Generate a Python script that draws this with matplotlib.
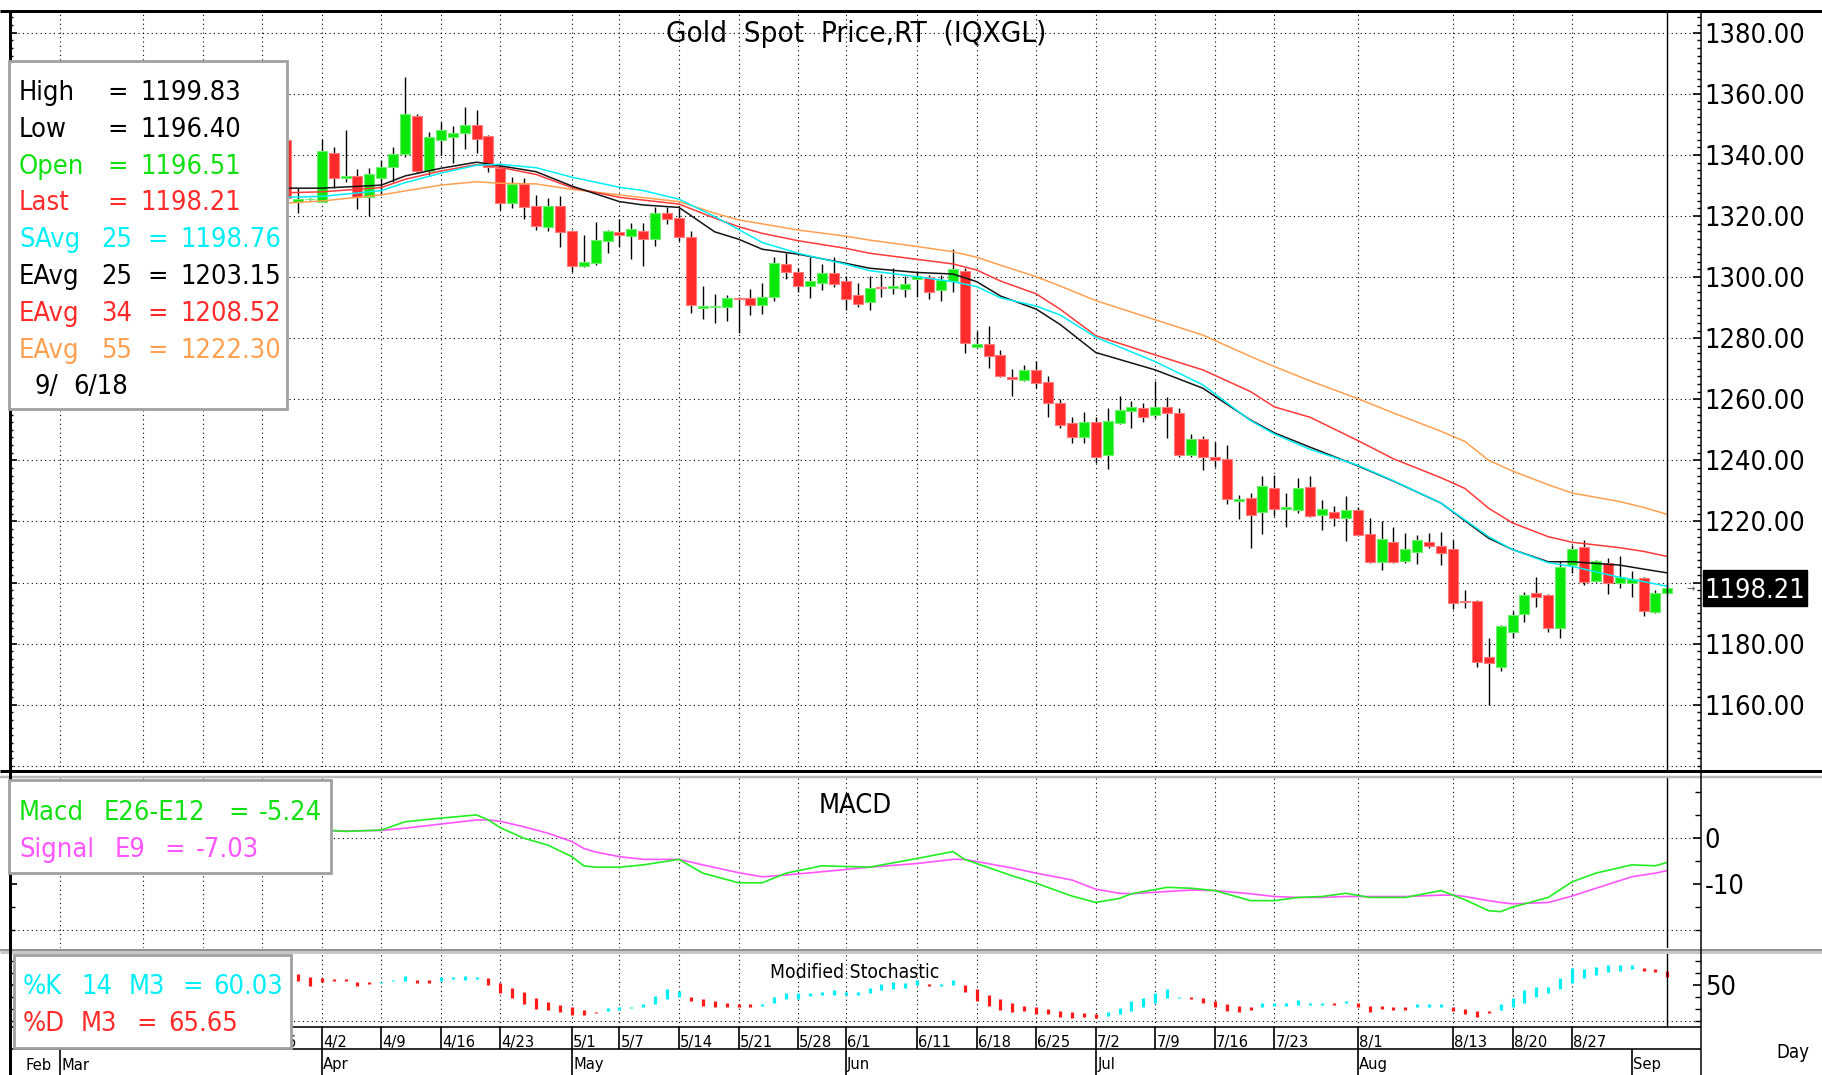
import matplotlib
matplotlib.use("Agg")
import matplotlib.pyplot as plt
from matplotlib.patches import Rectangle
from matplotlib.ticker import FixedLocator, MultipleLocator
from matplotlib import font_manager
import numpy as np
import pandas as pd

# === fonts: the charting package uses a narrow sans; take the narrowest we have ===
entries = [(f.name, str(f.stretch)) for f in font_manager.fontManager.ttflist]
FAM, STRETCH = "Liberation Sans", "normal"
for name, stretch in entries:
    if name == "Liberation Sans Narrow":
        FAM, STRETCH = name, "normal"
        break
else:
    for name, stretch in entries:
        if name == "DejaVu Sans" and stretch in ("condensed", "semi-condensed"):
            FAM, STRETCH = name, stretch
            break
        if "Condensed" in name or "Narrow" in name:
            FAM, STRETCH = name, stretch
plt.rcParams["font.family"] = [FAM, "DejaVu Sans"]
plt.rcParams["font.stretch"] = STRETCH

# === daily candles, 3/28 .. 9/6 (one row per week) ===
candle_start = "3/28"
open_ = [1345.0, 1324.5, 1325.5,
         1324.7, 1340.5, 1332.3, 1333.1, 1326.3,
         1332.3, 1335.9, 1340.2, 1352.7, 1334.7,
         1344.9, 1345.8, 1347.3, 1349.7, 1346.2,
         1335.6, 1324.4, 1330.5, 1323.3, 1316.5,
         1323.3, 1315.2, 1303.7, 1304.5, 1311.8,
         1314.7, 1313.5, 1315.2, 1312.4, 1321.1,
         1319.3, 1313.2, 1289.9, 1290.2, 1290.2,
         1293.2, 1293.0, 1290.8, 1293.6, 1304.2,
         1301.8, 1297.2, 1298.2, 1301.2, 1298.7,
         1294.0, 1291.8, 1296.7, 1296.3, 1296.2,
         1299.4, 1300.0, 1295.8, 1298.7, 1302.1,
         1277.2, 1278.1, 1274.5, 1267.4, 1266.2,
         1269.6, 1265.6, 1258.7, 1252.1, 1247.7,
         1252.6, 1241.8, 1252.3, 1256.2, 1257.0,
         1254.8, 1257.6, 1255.6, 1241.8, 1247.0,
         1241.0, 1240.6, 1226.8, 1227.6, 1223.2,
         1231.1, 1224.2, 1223.8, 1231.4, 1222.1,
         1223.0, 1221.0, 1223.6, 1215.8, 1206.8,
         1213.4, 1207.2, 1210.1, 1213.4, 1212.0,
         1210.9, 1194.1, 1194.1, 1175.5, 1172.4,
         1183.9, 1189.7, 1196.5, 1195.9, 1185.0,
         1205.8, 1211.5, 1200.5, 1206.5, 1199.8,
         1199.8, 1201.6, 1190.2, 1196.51]
high = [1346.0, 1329.0, 1325.8,
        1345.2, 1342.7, 1348.2, 1335.3, 1335.6,
        1338.3, 1342.7, 1365.4, 1353.3, 1347.6,
        1350.7, 1349.6, 1355.8, 1354.7, 1346.5,
        1337.3, 1332.7, 1332.3, 1326.9, 1325.8,
        1326.5, 1315.5, 1313.8, 1318.1, 1315.5,
        1318.9, 1317.6, 1317.6, 1323.0, 1323.0,
        1322.5, 1315.2, 1297.1, 1294.5, 1294.1,
        1293.4, 1296.2, 1298.2, 1306.7, 1308.0,
        1302.9, 1306.7, 1304.3, 1306.5, 1300.4,
        1298.0, 1300.4, 1301.0, 1302.9, 1300.4,
        1302.1, 1300.7, 1300.7, 1309.1, 1302.9,
        1282.4, 1284.0, 1276.1, 1269.9, 1271.1,
        1272.5, 1267.6, 1260.0, 1254.1, 1255.7,
        1254.1, 1257.0, 1261.1, 1259.5, 1258.7,
        1266.1, 1260.7, 1257.0, 1248.6, 1248.0,
        1246.1, 1245.0, 1228.7, 1229.2, 1234.9,
        1235.2, 1229.4, 1234.1, 1235.0, 1227.0,
        1225.1, 1228.4, 1224.8, 1221.0, 1220.0,
        1218.3, 1216.1, 1215.6, 1216.1, 1216.7,
        1214.0, 1197.6, 1194.4, 1182.0, 1186.2,
        1190.6, 1197.0, 1201.7, 1196.2, 1206.9,
        1212.3, 1214.0, 1207.4, 1208.0, 1208.7,
        1203.9, 1201.9, 1197.6, 1199.83]
low = [1324.0, 1321.0, 1325.3,
       1324.5, 1329.0, 1331.0, 1322.3, 1320.0,
       1326.9, 1331.2, 1339.4, 1334.0, 1333.4,
       1340.0, 1337.4, 1341.8, 1340.7, 1334.5,
       1322.0, 1322.5, 1318.9, 1315.4, 1315.2,
       1310.0, 1301.8, 1303.4, 1304.0, 1308.0,
       1310.0, 1305.8, 1303.6, 1310.2, 1317.4,
       1311.9, 1288.2, 1286.2, 1285.1, 1285.7,
       1281.8, 1287.6, 1287.8, 1292.3, 1299.3,
       1295.2, 1293.3, 1295.8, 1296.7, 1289.2,
       1290.3, 1289.2, 1293.6, 1294.6, 1293.4,
       1293.6, 1292.7, 1292.3, 1295.2, 1275.0,
       1276.8, 1270.1, 1267.2, 1261.2, 1265.9,
       1263.6, 1254.1, 1250.5, 1245.6, 1245.6,
       1239.1, 1237.2, 1251.9, 1250.5, 1252.7,
       1253.8, 1247.2, 1241.2, 1241.2, 1236.9,
       1237.9, 1225.7, 1220.7, 1211.2, 1215.9,
       1221.8, 1218.3, 1222.7, 1221.5, 1217.2,
       1218.6, 1213.7, 1215.3, 1206.5, 1204.1,
       1206.5, 1206.3, 1206.1, 1211.2, 1205.8,
       1191.3, 1191.6, 1172.5, 1160.0, 1171.0,
       1181.8, 1187.2, 1192.1, 1183.7, 1182.0,
       1203.0, 1199.2, 1200.2, 1196.3, 1198.1,
       1195.2, 1189.1, 1190.0, 1196.40]
close = [1326.0, 1325.5, 1325.6,
         1341.2, 1332.3, 1333.2, 1326.3, 1333.6,
         1336.1, 1340.2, 1353.3, 1334.7, 1345.8,
         1348.3, 1347.2, 1349.7, 1345.2, 1336.1,
         1324.4, 1330.5, 1323.0, 1316.8, 1323.3,
         1314.9, 1303.7, 1305.0, 1312.1, 1315.2,
         1313.9, 1315.6, 1312.4, 1321.1, 1318.9,
         1313.2, 1290.8, 1290.6, 1290.6, 1293.0,
         1292.7, 1290.8, 1293.6, 1304.7, 1301.8,
         1297.2, 1298.6, 1301.2, 1297.7, 1292.7,
         1291.2, 1296.5, 1296.3, 1297.1, 1297.6,
         1300.4, 1295.2, 1299.1, 1302.5, 1278.4,
         1278.1, 1274.3, 1267.7, 1266.6, 1269.6,
         1265.2, 1258.7, 1251.5, 1247.7, 1252.7,
         1241.2, 1253.0, 1256.5, 1257.6, 1254.3,
         1257.6, 1255.4, 1241.8, 1247.0, 1241.2,
         1240.2, 1227.3, 1227.5, 1222.1, 1231.6,
         1224.2, 1224.6, 1231.1, 1221.8, 1224.0,
         1221.2, 1223.6, 1215.6, 1206.8, 1214.3,
         1206.8, 1210.9, 1214.0, 1212.0, 1209.8,
         1193.2, 1193.5, 1174.1, 1173.6, 1185.9,
         1189.5, 1195.9, 1195.2, 1185.0, 1205.0,
         1210.9, 1200.1, 1206.9, 1199.8, 1201.7,
         1201.1, 1190.7, 1196.5, 1198.21]

# === moving averages ===
ma_dates = ["3/28", "4/2", "4/9", "4/11", "4/16", "4/19", "4/23", "4/26", "5/1", "5/7",
            "5/9", "5/14", "5/17", "5/21", "5/23", "5/28", "6/1", "6/5", "6/11", "6/14",
            "6/18", "6/20", "6/25", "6/27", "7/2", "7/9", "7/13", "7/19", "7/23", "7/26",
            "8/1", "8/6", "8/10", "8/14", "8/16", "8/20", "8/23", "8/27", "8/31", "9/4", "9/6"]
savg25 = [1326.1, 1326.4, 1328.3, 1330.9, 1334.0, 1336.6, 1336.9, 1335.8, 1332.7, 1329.4,
          1328.3, 1325.5, 1319.8, 1315.6, 1311.3, 1307.8, 1304.2, 1302.1, 1300.1, 1298.5,
          1296.9, 1293.2, 1290.5, 1287.6, 1280.3, 1272.3, 1264.7, 1253.0, 1248.6, 1243.6,
          1238.4, 1233.3, 1226.0, 1220.5, 1215.0, 1210.8, 1206.5, 1205.3, 1201.7, 1200.3, 1198.76]
eavg25 = [1329.1, 1329.1, 1330.1, 1333.1, 1335.6, 1337.6, 1336.4, 1334.5, 1329.8, 1324.7,
          1323.6, 1322.8, 1314.8, 1312.4, 1309.1, 1307.5, 1304.5, 1302.9, 1301.5, 1301.0,
          1298.5, 1293.8, 1289.5, 1284.5, 1275.3, 1269.6, 1263.6, 1253.2, 1249.0, 1244.3,
          1238.2, 1233.2, 1226.0, 1220.2, 1214.5, 1210.8, 1206.8, 1206.8, 1205.7, 1204.4, 1203.15]
eavg34 = [1327.6, 1327.9, 1329.3, 1332.0, 1334.7, 1336.8, 1335.9, 1333.6, 1329.3, 1326.1,
          1325.2, 1323.9, 1319.3, 1316.5, 1314.3, 1311.9, 1309.4, 1307.8, 1305.8, 1304.3,
          1302.3, 1298.7, 1294.5, 1289.5, 1280.8, 1274.5, 1269.6, 1262.5, 1257.5, 1254.1,
          1246.5, 1240.5, 1234.3, 1230.8, 1224.3, 1219.5, 1215.0, 1213.2, 1211.4, 1210.2, 1208.52]
eavg55 = [1324.2, 1324.9, 1326.9, 1328.2, 1330.1, 1331.2, 1330.7, 1330.5, 1328.7, 1326.9,
          1326.0, 1324.7, 1320.9, 1318.7, 1317.4, 1315.4, 1313.4, 1312.1, 1310.0, 1308.3,
          1306.5, 1303.9, 1300.1, 1297.1, 1292.3, 1286.0, 1281.0, 1274.0, 1270.7, 1266.0,
          1260.2, 1255.5, 1249.5, 1246.2, 1240.0, 1236.5, 1232.0, 1229.3, 1226.5, 1224.6, 1222.30]

# === MACD panel ===
macd_dates = ["4/2", "4/4", "4/9", "4/11", "4/16", "4/19", "4/20", "4/23", "4/25", "4/27",
              "5/1", "5/2", "5/3", "5/7", "5/9", "5/14", "5/16", "5/21", "5/23", "5/25",
              "5/30", "6/5", "6/11", "6/14", "6/15", "6/21", "6/25", "6/28", "7/2", "7/4",
              "7/5", "7/10", "7/12", "7/16", "7/19", "7/23", "7/25", "7/27", "7/31", "8/2",
              "8/7", "8/10", "8/13", "8/14", "8/16", "8/17", "8/20", "8/23", "8/27", "8/29",
              "9/3", "9/5", "9/6"]
macd = [1.9, 1.5, 1.8, 3.6, 4.4, 5.1, 4.0, 2.3, 0.0, -1.5,
        -4.0, -6.0, -6.3, -6.3, -5.8, -4.6, -7.6, -9.7, -9.7, -7.6,
        -6.0, -6.3, -4.4, -2.9, -4.6, -8.2, -9.8, -12.6, -14.0, -13.1,
        -12.1, -10.7, -10.9, -11.4, -13.6, -13.6, -12.9, -12.7, -12.0, -12.9,
        -12.9, -11.4, -12.4, -13.4, -15.8, -16.0, -15.0, -12.9, -9.5, -7.6,
        -5.8, -6.0, -5.24]
signal = [1.6, 1.6, 1.7, 2.2, 3.1, 4.0, 4.0, 3.7, 2.5, 1.1,
          -0.7, -2.2, -3.0, -4.0, -4.6, -4.6, -5.8, -7.5, -8.4, -8.0,
          -7.3, -6.3, -5.5, -4.6, -4.6, -6.5, -7.6, -9.1, -11.1, -12.0,
          -12.1, -11.6, -11.3, -11.4, -12.1, -12.7, -12.9, -12.9, -12.7, -12.7,
          -12.7, -12.4, -12.4, -12.7, -13.6, -14.0, -14.3, -14.0, -12.6, -10.9,
          -8.4, -7.6, -7.03]

# === modified stochastic, 3/29 .. 9/6 (bar drawn between %K and %D) ===
stoch_start = "3/29"
stoch_k = [53.6, 49.2,
           52.8, 53.6, 53.6, 49.2, 50.8,
           52.8, 54.2, 57.5, 51.4, 51.4,
           56.4, 56.4, 57.5, 56.4, 50.0,
           43.1, 38.9, 33.9, 29.8, 29.2,
           27.3, 25.0, 25.0, 26.4, 30.6,
           31.9, 31.9, 33.9, 40.8, 46.4,
           45.3, 36.9, 32.5, 31.4, 31.4,
           31.4, 31.4, 33.9, 40.3, 43.1,
           43.1, 43.1, 44.4, 45.8, 44.4,
           43.9, 47.8, 50.8, 52.8, 51.9,
           54.2, 49.2, 50.8, 54.2, 44.4,
           36.9, 32.5, 29.2, 27.3, 28.6,
           25.8, 25.8, 23.6, 22.3, 23.1,
           22.3, 27.3, 30.6, 36.9, 38.9,
           43.1, 46.4, 40.3, 38.1, 35.3,
           31.4, 28.6, 27.3, 29.2, 35.3,
           35.3, 35.3, 37.5, 35.3, 35.3,
           33.3, 36.7, 31.4, 27.8, 29.8,
           29.2, 29.2, 33.9, 33.9, 33.9,
           28.6, 25.8, 23.6, 26.4, 33.9,
           38.9, 45.8, 48.6, 48.6, 55.6,
           63.9, 63.1, 65.3, 66.7, 66.7,
           66.7, 61.9, 60.6, 56.9]
stoch_d = [59.2, 56.4,
           55.6, 55.0, 55.0, 52.8, 52.8,
           51.9, 53.6, 53.6, 54.2, 54.2,
           53.6, 55.0, 54.2, 55.2, 55.6,
           51.9, 47.3, 43.9, 38.9, 36.1,
           33.3, 31.4, 29.2, 27.8, 28.6,
           29.2, 30.6, 31.4, 34.2, 38.1,
           39.8, 40.3, 38.1, 36.9, 35.3,
           33.9, 33.9, 32.5, 35.3, 38.1,
           38.1, 40.8, 41.7, 41.7, 41.7,
           41.7, 43.1, 45.8, 46.4, 47.3,
           50.0, 50.8, 49.2, 50.0, 50.0,
           46.4, 41.7, 38.1, 34.8, 32.5,
           31.4, 29.8, 28.6, 27.3, 26.4,
           25.6, 24.4, 25.8, 28.6, 31.4,
           34.8, 38.9, 38.9, 40.3, 38.9,
           36.9, 34.2, 32.5, 31.4, 31.4,
           32.5, 32.5, 33.3, 33.3, 33.3,
           35.3, 34.8, 35.3, 32.5, 32.5,
           31.4, 31.4, 31.4, 31.4, 31.4,
           31.9, 29.8, 28.6, 28.6, 29.2,
           31.4, 35.3, 39.8, 43.1, 46.4,
           51.9, 55.6, 58.3, 61.1, 61.9,
           63.1, 63.9, 63.1, 61.9]

# === date axis ===
day_labels = ["3/1", "3/12", "3/19", "3/26", "4/2", "4/9", "4/16", "4/23", "5/1", "5/7",
              "5/14", "5/21", "5/28", "6/1", "6/11", "6/18", "6/25", "7/2", "7/9", "7/16",
              "7/23", "8/1", "8/13", "8/20", "8/27"]
month_names = ["Feb", "Mar", "Apr", "May", "Jun", "Jul", "Aug", "Sep"]
month_first = ["2/26", "3/1", "4/2", "5/1", "6/1", "7/2", "8/1", "9/3"]

# trading calendar -> bar index (every weekday is a bar on this chart)
cal = pd.bdate_range("2018-02-19", "2018-09-07")
cal_labels = [f"{d.month}/{d.day}" for d in cal]
pos = {s: k - cal_labels.index("3/26") for k, s in enumerate(cal_labels)}

# === colours ===
GREEN = "#0be80b"
RED = "#ff2b2b"
CYAN = "#00eef6"
ORANGE = "#ffa050"
MAGENTA = "#ff55ff"
TGREEN = "#11e011"

# === layout (pixels of the 1822x1075 picture) ===
W, H = 1822, 1075
X0, X1 = 9, 1700.6
XLIM = ((X0 - 262.2) / 11.908, (X1 - 262.2) / 11.908)


def rect(x0, y0, x1, y1):
    return [x0 / W, 1 - y1 / H, (x1 - x0) / W, (y1 - y0) / H]


fig = plt.figure(figsize=(W / 100, H / 100), dpi=100)
fig.patch.set_facecolor("white")
renderer = fig.canvas.get_renderer()


def fit_size(sample, width_px):
    # font size giving the sample the width it has in the reference
    t = fig.text(0, 0, sample, fontsize=10)
    w = t.get_window_extent(renderer).width
    t.remove()
    return 10 * width_px / w


BIG = min(fit_size("1380.00", 101), 25)
SMALL = min(fit_size("7/16", 33), 16)
MIDS = min(fit_size("Modified Stochastic", 170), 18)
DAYS = min(fit_size("Day", 33), 19)
TITLE = min(fit_size("Gold  Spot  Price,RT  (IQXGL)", 381), 25)

ax = fig.add_axes(rect(X0, 11, X1, 771))
macd_ax = fig.add_axes(rect(X0, 778, X1, 948))
stoch_ax = fig.add_axes(rect(X0, 953, X1, 1027))
date_ax = fig.add_axes(rect(X0, 1027, X1, 1075))
over = fig.add_axes([0, 0, 1, 1], zorder=10)
over.set_xlim(0, W)
over.set_ylim(H, 0)
over.axis("off")

for a in (ax, macd_ax, stoch_ax, date_ax):
    a.set_xlim(*XLIM)
    a.set_xticks([])
    for s in a.spines.values():
        s.set_visible(False)

ax.set_ylim(1138.3, 1387.1)
macd_ax.set_ylim(-23.93, 13.15)
stoch_ax.set_ylim(15.0, 76.7)
date_ax.set_ylim(H, 1027)
date_ax.set_yticks([])

# --- dotted grid ---
dot = (0, (1, 3))
grid_x = [pos[d] for d in day_labels]
for a in (ax, macd_ax, stoch_ax):
    for gx in grid_x:
        a.axvline(gx, color="black", lw=0.8, ls=dot, zorder=1)
    a.axvline(pos["9/6"], color="black", lw=1.0, zorder=6)
for p in range(1140, 1381, 20):
    ax.axhline(p, color="black", lw=0.8, ls=dot, zorder=1)
for m in (0, -20):
    macd_ax.axhline(m, color="black", lw=0.8, ls=dot, zorder=1)
stoch_ax.axhline(20, color="black", lw=0.8, ls=dot, zorder=1)

# --- y ticks (the label under the last-price box is left blank) ---
price_ticks = np.arange(1160, 1381, 20)
ax.yaxis.set_ticks_position("both")
ax.set_yticks(price_ticks)
ax.set_yticklabels(["" if abs(p - close[-1]) < 10 else f"{p:.2f}" for p in price_ticks])
ax.yaxis.set_minor_locator(MultipleLocator(2.5))
ax.tick_params(axis="y", which="major", direction="in", length=6, width=1.2,
               labelleft=False, labelright=True, labelsize=BIG, pad=3)
ax.tick_params(axis="y", which="minor", direction="in", length=3, width=1)

macd_ax.yaxis.set_ticks_position("both")
macd_ax.set_yticks([0, -10])
macd_ax.set_yticklabels(["0", "-10"])
macd_ax.yaxis.set_minor_locator(FixedLocator(range(-20, 15, 5)))
macd_ax.tick_params(axis="y", which="major", direction="in", length=6, width=1.2,
                    labelleft=False, labelright=True, labelsize=BIG, pad=3)
macd_ax.tick_params(axis="y", which="minor", direction="in", length=4, width=1)

stoch_ax.yaxis.set_ticks_position("both")
stoch_ax.set_yticks([50])
stoch_ax.set_yticklabels(["50"])
stoch_ax.yaxis.set_minor_locator(FixedLocator([20, 30, 40, 60, 70]))
stoch_ax.tick_params(axis="y", which="major", direction="in", length=6, width=1.2,
                     labelleft=False, labelright=True, labelsize=BIG, pad=3)
stoch_ax.tick_params(axis="y", which="minor", direction="in", length=4, width=1)

# --- candles ---
o = np.array(open_)
c = np.array(close)
xc = pos[candle_start] + np.arange(len(o))
up = c >= o
ax.vlines(xc, low, high, color="black", lw=1.0, zorder=2)
ax.bar(xc, c - o, bottom=o, width=0.84,
       color=np.where(up, GREEN, RED),
       edgecolor=np.where(up, "#6df06d", "#ff7a7a"), linewidth=0.8, zorder=3)

# --- moving averages ---
xm = [pos[d] for d in ma_dates]
ax.plot(xm, eavg55, color=ORANGE, lw=1.1, zorder=4)
ax.plot(xm, eavg34, color="#ff3a3a", lw=1.1, zorder=4)
ax.plot(xm, eavg25, color="#151515", lw=1.1, zorder=4)
ax.plot(xm, savg25, color=CYAN, lw=1.1, zorder=4)

# last price box on the axis
ytr = ax.get_yaxis_transform()
ax.add_patch(Rectangle((1.0014, close[-1] - 6.0), 0.0615, 12.0, transform=ytr,
                       facecolor="black", edgecolor="black", clip_on=False, zorder=20))
ax.text(1.0014 + 0.0615 / 2, close[-1], f"{close[-1]:.2f}", transform=ytr,
        color="white", ha="center", va="center_baseline", fontsize=BIG,
        clip_on=False, zorder=21)
over.text(1691, 589, "\u2192", color="#555555", ha="center", va="center", fontsize=8)

# --- MACD ---
xd = [pos[d] for d in macd_dates]
macd_ax.plot(xd, signal, color=MAGENTA, lw=1.2, zorder=3)
macd_ax.plot(xd, macd, color="#22ee22", lw=1.2, zorder=4)

# --- stochastic bars ---
k = np.array(stoch_k)
d = np.array(stoch_d)
xs = pos[stoch_start] + np.arange(len(k))
stoch_ax.vlines(xs, np.minimum(k, d), np.maximum(k, d),
                colors=np.where(k >= d, CYAN, "#ff1a1a"), lw=2.3, zorder=3)

# --- date axis ---
date_ax.vlines([pos[s] for s in day_labels], 1027, 1049.3, color="black", lw=1.2)
date_ax.vlines([pos[s] for s in month_first[1:]], 1049.3, H, color="black", lw=1.2)
for s in day_labels:
    date_ax.text(pos[s] + 0.1, 1047, s, ha="left", va="baseline", fontsize=SMALL)
for name, s in zip(month_names, month_first):
    date_ax.text(pos[s] + 0.12, 1069.5, name, ha="left", va="baseline", fontsize=SMALL)
over.text(1793, 1058, "Day", ha="center", va="baseline", fontsize=DAYS)


# --- frame lines ---
def hl(y, x0, x1, px, col="black"):
    over.plot([x0, x1], [y, y], color=col, lw=px * 0.72, solid_capstyle="butt")


def vl(x, y0, y1, px, col="black"):
    over.plot([x, x], [y0, y1], color=col, lw=px * 0.72, solid_capstyle="butt")


hl(11, 0, W, 3)
hl(771, 0, W, 3)
hl(777, 0, W, 2.5, "#b8b8b8")
hl(949.5, 0, W, 1.5, "#707070")
hl(952, 0, W, 3, "#c8c8c8")
hl(1027, X0, X1, 1.6)
hl(1049.3, X0, X1, 1.6)
vl(9.5, 11, H, 3)
vl(X1, 11, H, 1.5)

# --- titles ---
over.text(856, 41.7, "Gold  Spot  Price,RT  (IQXGL)", ha="center", va="baseline", fontsize=TITLE)
over.text(855, 813.3, "MACD", ha="center", va="baseline", fontsize=BIG)
over.text(855, 978.3, "Modified Stochastic", ha="center", va="baseline", fontsize=MIDS)


# --- info boxes ---
def info_box(x0, y0, x1, y1, rows):
    over.add_patch(Rectangle((x0, y0), x1 - x0, y1 - y0, facecolor="white",
                             edgecolor="#a0a0a0", lw=2.0, zorder=5))
    for base, col, pieces in rows:
        for txt, tx in pieces:
            over.text(tx, base, txt, color=col, ha="left", va="baseline",
                      fontsize=BIG, zorder=6)


info_box(8.7, 61, 286.7, 409, [
    (100.0, "black", [("High", 19), ("=", 107), (f"{high[-1]:.2f}", 140)]),
    (136.8, "black", [("Low", 19), ("=", 107), (f"{low[-1]:.2f}", 140)]),
    (173.6, TGREEN, [("Open", 19), ("=", 107), (f"{open_[-1]:.2f}", 140)]),
    (210.4, RED, [("Last", 19), ("=", 107), (f"{close[-1]:.2f}", 140)]),
    (247.2, CYAN, [("SAvg", 19), ("25", 101), ("=", 147), (f"{savg25[-1]:.2f}", 180)]),
    (284.0, "black", [("EAvg", 19), ("25", 101), ("=", 147), (f"{eavg25[-1]:.2f}", 180)]),
    (320.8, RED, [("EAvg", 19), ("34", 101), ("=", 147), (f"{eavg34[-1]:.2f}", 180)]),
    (357.6, ORANGE, [("EAvg", 19), ("55", 101), ("=", 147), (f"{eavg55[-1]:.2f}", 180)]),
    (394.4, "black", [("9/", 34), ("6/18", 73)]),
])
info_box(8.7, 780, 331.4, 873.3, [
    (820.0, TGREEN, [("Macd", 19), ("E26-E12", 103.6), ("=", 228.5), ("-5.24", 259)]),
    (856.7, MAGENTA, [("Signal", 19), ("E9", 114.7), ("=", 164), ("-7.03", 195.7)]),
])
info_box(13.8, 955, 290.6, 1048.3, [
    (994.3, CYAN, [("%K", 23), ("14", 81), ("M3", 128.5), ("=", 182.7), ("60.03", 213.5)]),
    (1030.7, RED, [("%D", 23), ("M3", 81), ("=", 136.4), ("65.65", 168)]),
])

fig.savefig("out.png", dpi=100, facecolor="white")
